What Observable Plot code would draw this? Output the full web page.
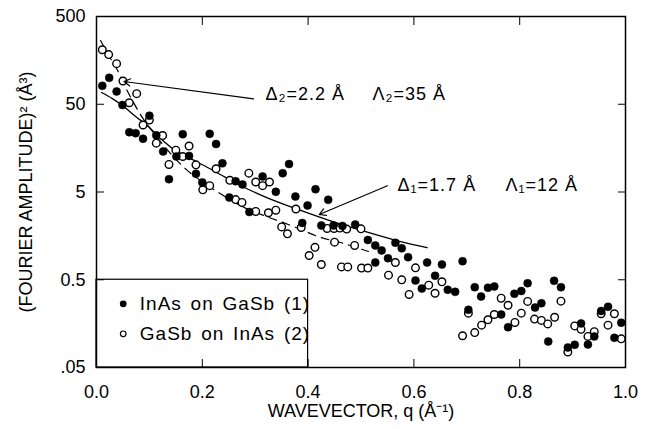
<!DOCTYPE html>
<html><head><meta charset="utf-8">
<script src="https://cdn.jsdelivr.net/npm/d3@7"></script>
<script src="https://cdn.jsdelivr.net/npm/@observablehq/plot@0.6"></script>
<style>
body{margin:0;background:#fff;}
#chart svg{display:block;}
</style>
</head><body><div id="chart"></div>
<script>
// InAs on GaSb (1) — filled circles
const inasQ = [0.011,0.024,0.038,0.049,0.100,0.062,0.074,0.088,0.113,0.126,0.163,0.214,0.226,0.151,0.175,0.137,0.188,0.200,0.238,0.263,0.276,0.314,0.364,0.352,0.339,0.376,0.414,0.438,0.399,0.251,0.289,0.389,0.425,0.448,0.465,0.489,0.513,0.527,0.539,0.565,0.577,0.589,0.551,0.527,0.625,0.653,0.692,0.603,0.615,0.640,0.664,0.678,0.715,0.727,0.740,0.752,0.703,0.765,0.790,0.803,0.815,0.829,0.841,0.778,0.854,0.865,0.878,0.916,0.891,0.904,0.929,0.941,0.954,0.967,0.992,0.979];
const inasAmp = [81,100,70,49,37,24,23.4,20.2,22.1,14.5,22.8,23.0,17.6,12.7,12.9,7.0,8.06,6.42,10.6,6.64,6.09,7.51,10.4,8.19,5.03,4.44,5.38,4.07,3.51,4.33,2.96,2.22,2.08,2.08,2.05,2.13,1.42,1.23,1.08,1.32,1.14,0.904,0.880,0.786,0.786,0.746,0.814,0.490,0.397,0.555,0.384,0.364,0.411,0.322,0.405,0.419,0.227,0.201,0.346,0.372,0.457,0.241,0.270,0.144,0.099,0.486,0.411,0.159,0.0845,0.0907,0.0914,0.113,0.220,0.246,0.162,0.109];
// GaSb on InAs (2) — open circles
const gasbQ = [0.011,0.023,0.038,0.050,0.076,0.062,0.100,0.088,0.125,0.113,0.175,0.150,0.163,0.137,0.188,0.226,0.288,0.252,0.301,0.314,0.327,0.214,0.201,0.263,0.275,0.301,0.325,0.339,0.377,0.350,0.361,0.387,0.436,0.449,0.460,0.473,0.500,0.450,0.488,0.402,0.413,0.425,0.463,0.475,0.501,0.513,0.565,0.603,0.552,0.577,0.628,0.653,0.640,0.591,0.703,0.692,0.715,0.728,0.740,0.752,0.765,0.778,0.815,0.803,0.791,0.828,0.841,0.853,0.866,0.878,0.904,0.916,0.891,0.929,0.941,0.954,0.967,0.979,0.992];
const gasbAmp = [209,184,145,92,66,52,33,29,22,18,16.7,15,12.7,10.3,10.2,9.2,8.2,6.8,6.5,5.9,6.5,5.9,5.3,4.1,3.8,3.0,2.9,3.1,3.2,2.0,1.67,1.97,1.92,1.92,1.94,1.89,1.90,1.34,1.23,0.945,1.17,0.746,0.70,0.70,0.68,0.68,0.786,0.684,0.564,0.499,0.434,0.474,0.351,0.340,0.208,0.115,0.125,0.152,0.175,0.201,0.308,0.256,0.283,0.208,0.163,0.178,0.172,0.157,0.187,0.285,0.149,0.136,0.075,0.113,0.128,0.205,0.152,0.205,0.106];
// fit curves
const fit1Q = [0.0095,0.030,0.049,0.074,0.098,0.121,0.149,0.178,0.209,0.234,0.272,0.323,0.386,0.448,0.512,0.575,0.625];
const fit1Amp = [68,58,48.4,36.3,27.9,20.4,14.9,12.0,9.58,7.91,5.93,4.29,3.08,2.28,1.74,1.36,1.16];
const fit2Q = [0.0076,0.023,0.038,0.053,0.068,0.087,0.112,0.140,0.170,0.202,0.236,0.276,0.316,0.348,0.386,0.423,0.461,0.484,0.514];
const fit2Amp = [266,180,128,82,55,35,22,13.7,9.0,6.4,4.7,3.4,2.7,2.3,1.87,1.52,1.33,1.20,1.05];
// ticks
const xTicks = [0,0.2,0.4,0.6,0.8,1.0];
const xTickLabels = ["0.0","0.2","0.4","0.6","0.8","1.0"];
const yTicks = [0.05,0.5,5,50,500];
const yTickLabels = [".05","0.5","5","50","500"];
// annotations
const annoText = ["Δ₂=2.2 Å","Λ₂=35 Å","Δ₁=1.7 Å","Λ₁=12 Å"];
const annoQ = [0.3195,0.5217,0.569,0.773];
const annoAmp = [64.6,64.6,5.93,5.93];
const arrowFromQ = [0.297,0.550];
const arrowFromAmp = [57.7,5.89];
const arrowToQ = [0.052,0.421];
const arrowToAmp = [90.8,2.77];
// legend
const legendLabels = ["InAs on GaSb (1)","GaSb on InAs (2)"];
const legendFilled = [true,false];
const legendAmp = [0.266,0.121];
const legendSymQ = 0.0505, legendTextQ = 0.0819;
const legendBoxQ = [0,0.4], legendBoxAmp = [0.05,0.5];
const xLabel = "WAVEVECTOR, q (Å⁻¹)";
const yLabel = "(FOURIER AMPLITUDE)² (Å³)";

const inas = inasQ.map((q,i)=>({q, amp: inasAmp[i]}));
const gasb = gasbQ.map((q,i)=>({q, amp: gasbAmp[i]}));
const fit1 = fit1Q.map((q,i)=>({q, amp: fit1Amp[i]}));
const fit2 = fit2Q.map((q,i)=>({q, amp: fit2Amp[i]}));
const annos = annoText.map((t,i)=>({t, q: annoQ[i], amp: annoAmp[i]}));
const arrows = arrowFromQ.map((q,i)=>({q1:q, a1:arrowFromAmp[i], q2:arrowToQ[i], a2:arrowToAmp[i]}));
const legend = legendLabels.map((l,i)=>({l, filled: legendFilled[i], amp: legendAmp[i]}));

const font = "'Liberation Sans', Arial, Helvetica, sans-serif";
const chart = Plot.plot({
  width: 651, height: 429,
  marginLeft: 96, marginRight: 26, marginTop: 16, marginBottom: 62,
  style: {fontFamily: font, fontSize: "18px", color: "black", background: "white"},
  x: {domain: [0, 1]},
  y: {type: "log", domain: [0.05, 500]},
  marks: [
    Plot.rect([0], {x1: legendBoxQ[0], x2: legendBoxQ[1], y1: legendBoxAmp[0], y2: legendBoxAmp[1], fill: "white", stroke: "black", strokeWidth: 1.2}),
    Plot.line(fit2, {x: "q", y: "amp", curve: "catmull-rom", stroke: "black", strokeWidth: 1.2, strokeDasharray: "8,6"}),
    Plot.line(fit1, {x: "q", y: "amp", curve: "catmull-rom", stroke: "black", strokeWidth: 1.3}),
    Plot.dot(gasb, {x: "q", y: "amp", r: 3.8, fill: "white", stroke: "black", strokeWidth: 1.4}),
    Plot.dot(inas, {x: "q", y: "amp", r: 4, fill: "black", stroke: "black", strokeWidth: 0.5}),
    Plot.arrow(arrows, {x1: "q1", y1: "a1", x2: "q2", y2: "a2", stroke: "black", strokeWidth: 1.2, headLength: 9}),
    Plot.text(annos, {x: "q", y: "amp", text: "t", textAnchor: "start", fontSize: 18, fill: "black"}),
    Plot.dot(legend, {x: () => legendSymQ, y: "amp", r: 2.8, fill: d => d.filled ? "black" : "white", stroke: "black", strokeWidth: 1.2}),
    Plot.text(legend, {x: () => legendTextQ, y: "amp", text: "l", textAnchor: "start", fontSize: 19, fill: "black"}),
    // inward ticks
    Plot.axisX(xTicks, {anchor: "bottom", tickSize: -8, fill: "none", label: null}),
    Plot.axisX(xTicks, {anchor: "top", tickSize: -8, fill: "none", label: null}),
    Plot.axisY(yTicks, {anchor: "left", tickSize: -8, fill: "none", label: null}),
    Plot.axisY(yTicks, {anchor: "right", tickSize: -8, fill: "none", label: null}),
    // tick labels
    Plot.text(xTicks, {x: d => d, text: (d, i) => xTickLabels[i], frameAnchor: "bottom", dy: 30, textAnchor: "middle", fontSize: 18, fill: "black"}),
    Plot.text(yTicks, {y: d => d, text: (d, i) => yTickLabels[i], frameAnchor: "left", dx: -11, textAnchor: "end", fontSize: 18, fill: "black"}),
    Plot.frame({stroke: "black", strokeWidth: 1.5}),
    Plot.text([xLabel], {frameAnchor: "bottom", dy: 49, text: d => d, textAnchor: "middle", fontSize: 18, fill: "black"}),
    Plot.text([yLabel], {frameAnchor: "left", dx: -70, rotate: -90, text: d => d, textAnchor: "middle", fontSize: 18, fill: "black"})
  ]
});
// widen spacing of annotation and legend texts like the original typesetting
chart.querySelectorAll("text").forEach(t => {
  const s = t.textContent;
  if (annoText.includes(s)) t.setAttribute("letter-spacing", "1");
  if (legendLabels.includes(s)) { t.setAttribute("letter-spacing", "1"); t.setAttribute("word-spacing", "2.5"); }
});
document.getElementById("chart").appendChild(chart);
</script>
</body></html>
